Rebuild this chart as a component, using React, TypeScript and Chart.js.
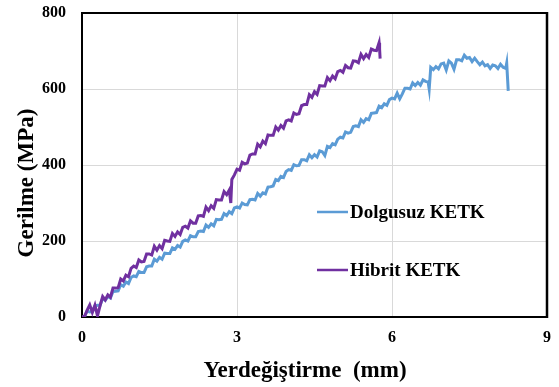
import React, { useEffect, useRef } from "react";
import { Chart, registerables } from "chart.js";

Chart.register(...registerables);

const seriesLabels = ["Dolgusuz KETK", "Hibrit KETK"];
const seriesColors = ["#5B9BD5", "#7030A0"];
const xTicks = [0, 3, 6, 9];
const yTicks = [0, 200, 400, 600, 800];
const xTitle = "Yerdeğiştirme  (mm)";
const yTitle = "Gerilme (MPa)";

const dolgusuzX = [
  0, 0.05, 0.1, 0.15, 0.2, 0.25, 0.3, 0.35, 0.4, 0.45, 0.5, 0.55, 0.6, 0.65, 0.7, 0.75, 0.8, 0.85, 0.9, 0.95,
  1, 1.05, 1.1, 1.15, 1.2, 1.25, 1.3, 1.35, 1.4, 1.45, 1.5, 1.55, 1.6, 1.65, 1.7, 1.75, 1.8, 1.85, 1.9, 1.95,
  2, 2.05, 2.1, 2.15, 2.2, 2.25, 2.3, 2.35, 2.4, 2.45, 2.5, 2.55, 2.6, 2.65, 2.7, 2.75, 2.8, 2.85, 2.9, 2.95,
  3, 3.05, 3.1, 3.15, 3.2, 3.25, 3.3, 3.35, 3.4, 3.45, 3.5, 3.55, 3.6, 3.65, 3.7, 3.75, 3.8, 3.85, 3.9, 3.95,
  4, 4.05, 4.1, 4.15, 4.2, 4.25, 4.3, 4.35, 4.4, 4.45, 4.5, 4.55, 4.6, 4.65, 4.7, 4.75, 4.8, 4.85, 4.9, 4.95,
  5, 5.05, 5.1, 5.15, 5.2, 5.25, 5.3, 5.35, 5.4, 5.45, 5.5, 5.55, 5.6, 5.65, 5.7, 5.75, 5.8, 5.85, 5.9, 5.95,
  6, 6.05, 6.1, 6.15, 6.2, 6.25, 6.3, 6.35, 6.4, 6.45, 6.5, 6.55, 6.6, 6.65, 6.7, 6.72, 6.75, 6.8, 6.85, 6.9, 6.95,
  7, 7.05, 7.1, 7.15, 7.2, 7.25, 7.3, 7.35, 7.4, 7.45, 7.5, 7.55, 7.6, 7.65, 7.7, 7.75, 7.8, 7.85, 7.9, 7.95,
  8, 8.05, 8.1, 8.15, 8.2, 8.22, 8.25,
];
const dolgusuzY = [
  0, 1, 16, 13, 14, 29, 31, 31, 49, 44, 54, 50, 67, 68, 69, 85, 81, 92, 88, 104,
  108, 106, 120, 117, 117, 132, 134, 134, 152, 147, 157, 152, 168, 167, 167, 182, 178, 188, 184, 199,
  203, 200, 214, 211, 211, 225, 226, 225, 242, 236, 245, 240, 257, 256, 257, 272, 267, 277, 272, 287,
  290, 287, 300, 296, 295, 309, 310, 308, 325, 318, 327, 324, 342, 343, 345, 362, 359, 370, 367, 383,
  388, 386, 401, 398, 399, 414, 414, 411, 427, 419, 427, 421, 437, 435, 425, 449, 446, 456, 453, 468,
  473, 471, 487, 484, 486, 501, 503, 501, 519, 512, 522, 519, 536, 537, 538, 555, 551, 561, 557, 572,
  576, 574, 589, 574, 587, 602, 602, 600, 616, 609, 617, 610, 624, 620, 618, 600, 657, 651, 659, 653, 666,
  668, 650, 674, 668, 652, 677, 677, 674, 689, 681, 683, 672, 681, 672, 664, 671, 661, 664, 654, 663,
  661, 654, 665, 657, 654, 668, 595,
];

const hibritX = [
  0, 0.05, 0.1, 0.15, 0.2, 0.25, 0.3, 0.35, 0.4, 0.45, 0.5, 0.55, 0.6, 0.65, 0.7, 0.75, 0.8, 0.85, 0.9, 0.95,
  1, 1.05, 1.1, 1.15, 1.2, 1.25, 1.3, 1.35, 1.4, 1.45, 1.5, 1.55, 1.6, 1.65, 1.7, 1.75, 1.8, 1.85, 1.9, 1.95,
  2, 2.05, 2.1, 2.15, 2.2, 2.25, 2.3, 2.35, 2.4, 2.45, 2.5, 2.55, 2.6, 2.65, 2.7, 2.75, 2.8, 2.85, 2.88, 2.9, 2.95,
  3, 3.05, 3.1, 3.15, 3.2, 3.25, 3.3, 3.35, 3.4, 3.45, 3.5, 3.55, 3.6, 3.65, 3.7, 3.75, 3.8, 3.85, 3.9, 3.95,
  4, 4.05, 4.1, 4.15, 4.2, 4.25, 4.3, 4.35, 4.4, 4.45, 4.5, 4.55, 4.6, 4.65, 4.7, 4.75, 4.8, 4.85, 4.9, 4.95,
  5, 5.05, 5.1, 5.15, 5.2, 5.25, 5.3, 5.35, 5.4, 5.45, 5.5, 5.55, 5.6, 5.65, 5.7, 5.75, 5.76, 5.77,
];
const hibritY = [
  0, 2, 18, 32, 12, 31, 3, 30, 54, 45, 58, 52, 76, 76, 77, 100, 95, 110, 106, 128,
  134, 130, 150, 145, 146, 166, 166, 163, 186, 176, 188, 180, 202, 200, 199, 220, 212, 224, 217, 236,
  239, 234, 253, 247, 247, 266, 267, 265, 289, 280, 293, 286, 309, 308, 308, 330, 322, 334, 300, 362, 374,
  389, 386, 407, 403, 405, 426, 429, 429, 455, 448, 463, 456, 479, 478, 478, 500, 492, 504, 497, 516,
  519, 516, 537, 533, 535, 556, 559, 559, 585, 578, 593, 586, 609, 608, 608, 630, 622, 634, 627, 646,
  649, 644, 662, 656, 655, 674, 673, 669, 691, 680, 691, 683, 705, 702, 701, 722, 705, 680,
];

const FONT = "'Liberation Serif', 'Times New Roman', serif";

const framePlugin = {
  id: "frameAndText",
  afterDraw(chart: any) {
    const { ctx, chartArea } = chart;
    const { left, right, top, bottom } = chartArea;
    ctx.save();
    ctx.strokeStyle = "#000";
    ctx.lineWidth = 2;
    ctx.beginPath();
    ctx.moveTo(left - 1, top);
    ctx.lineTo(right, top);
    ctx.stroke();
    ctx.lineWidth = 2.5;
    ctx.beginPath();
    ctx.moveTo(right, top - 1);
    ctx.lineTo(right, bottom + 1);
    ctx.stroke();

    // legend
    const legendY = [212, 270];
    ctx.font = `bold 19px ${FONT}`;
    ctx.textBaseline = "middle";
    ctx.textAlign = "left";
    chart.data.datasets.forEach((ds: any, i: number) => {
      const y = legendY[i];
      ctx.strokeStyle = ds.borderColor;
      ctx.lineWidth = 2.5;
      ctx.beginPath();
      ctx.moveTo(317, y);
      ctx.lineTo(348, y);
      ctx.stroke();
      ctx.fillStyle = "#000";
      ctx.fillText(ds.label, 350, y + 1);
    });

    // axis titles
    ctx.fillStyle = "#000";
    ctx.font = `bold 23px ${FONT}`;
    ctx.textAlign = "center";
    ctx.textBaseline = "alphabetic";
    ctx.fillText(xTitle, 305, 377);
    ctx.save();
    ctx.translate(33, 183);
    ctx.rotate(-Math.PI / 2);
    ctx.fillText(yTitle, 0, 0);
    ctx.restore();
    ctx.restore();
  },
};

export default function App() {
  const canvasRef = useRef<HTMLCanvasElement | null>(null);

  useEffect(() => {
    document.body.style.margin = "0";
    const canvas = canvasRef.current;
    if (!canvas) return;
    const chart = new Chart(canvas, {
      type: "line",
      data: {
        datasets: [
          {
            label: seriesLabels[0],
            data: dolgusuzX.map((x, i) => ({ x, y: dolgusuzY[i] })),
            borderColor: seriesColors[0],
            backgroundColor: seriesColors[0],
            borderWidth: 3,
            pointRadius: 0,
            tension: 0,
            order: 1,
          },
          {
            label: seriesLabels[1],
            data: hibritX.map((x, i) => ({ x, y: hibritY[i] })),
            borderColor: seriesColors[1],
            backgroundColor: seriesColors[1],
            borderWidth: 3,
            pointRadius: 0,
            tension: 0,
            order: 0,
          },
        ],
      },
      options: {
        responsive: false,
        animation: false,
        layout: { padding: { top: 13, right: 12, left: 0, bottom: 0 } },
        plugins: {
          legend: { display: false },
          tooltip: { enabled: false },
          title: { display: false },
        },
        scales: {
          x: {
            type: "linear",
            min: 0,
            max: 9,
            afterBuildTicks: (scale: any) => {
              scale.ticks = xTicks.map((v) => ({ value: v }));
            },
            afterFit: (scale: any) => {
              scale.height = 70;
              scale.paddingLeft = 0;
              scale.paddingRight = 0;
            },
            grid: { color: "#d9d9d9", lineWidth: 1, drawTicks: false },
            border: { display: true, color: "#000", width: 2 },
            ticks: {
              color: "#000",
              padding: 11,
              font: { family: FONT, size: 16, weight: "bold" },
              maxRotation: 0,
            },
          },
          y: {
            type: "linear",
            min: 0,
            max: 800,
            afterBuildTicks: (scale: any) => {
              scale.ticks = yTicks.map((v) => ({ value: v }));
            },
            afterFit: (scale: any) => {
              scale.width = 82;
              scale.paddingTop = 0;
              scale.paddingBottom = 0;
            },
            grid: { color: "#d9d9d9", lineWidth: 1, drawTicks: false },
            border: { display: true, color: "#000", width: 2 },
            ticks: {
              color: "#000",
              padding: 16,
              font: { family: FONT, size: 16, weight: "bold" },
            },
          },
        },
      },
      plugins: [framePlugin],
    });
    return () => chart.destroy();
  }, []);

  return (
    <div style={{ width: 559, height: 387, background: "#fff" }}>
      <canvas ref={canvasRef} width={559} height={387} />
    </div>
  );
}
